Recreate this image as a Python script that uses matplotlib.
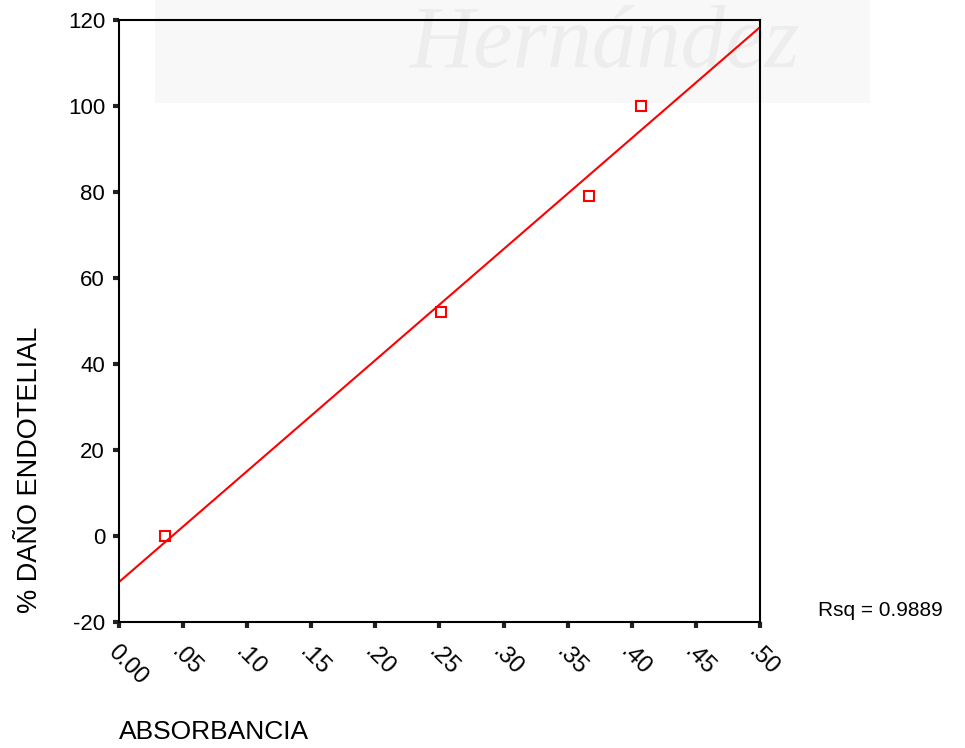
import numpy as np
import matplotlib.pyplot as plt
from matplotlib.patches import Rectangle

# ============================================================
# DATA
# ============================================================

absorbancia = [0.036, 0.251, 0.367, 0.407]
dano = [0.0, 52.0, 79.0, 100.0]

x_ticks = [0.00, 0.05, 0.10, 0.15, 0.20, 0.25, 0.30, 0.35, 0.40, 0.45, 0.50]
x_labels = ["0.00", ".05", ".10", ".15", ".20", ".25", ".30", ".35", ".40", ".45", ".50"]
y_ticks = [-20, 0, 20, 40, 60, 80, 100, 120]

rsq_text = "Rsq = 0.9889"

# linear fit
slope, intercept = np.polyfit(absorbancia, dano, 1)
x_fit = np.array([0.0, 0.5])
y_fit = slope * x_fit + intercept

# ============================================================
# FIGURE
# ============================================================

plt.rcParams["font.family"] = ["Liberation Sans", "DejaVu Sans"]

fig = plt.figure(figsize=(9.65, 7.48), dpi=100)

# faint watermark behind the plot
fig.patches.append(Rectangle((155 / 965, 1 - 103 / 748), 715 / 965, 103 / 748,
                             transform=fig.transFigure, facecolor="#f8f8f8",
                             edgecolor="none", zorder=-2))
fig.text(410 / 965, 1 - 45 / 748, "Hernández", fontsize=64,
         family="Liberation Serif", style="italic", color="#ededed",
         ha="left", va="center", zorder=-1)

ax = fig.add_axes([119 / 965, 1 - 622 / 748, 641 / 965, 602 / 748])
ax.set_facecolor("none")

ax.plot(x_fit, y_fit, color="red", lw=1.5, zorder=2)
ax.plot(absorbancia, dano, linestyle="none", marker="s", markersize=7.5,
        markerfacecolor="none", markeredgecolor="red", markeredgewidth=1.5,
        zorder=3)

ax.set_xlim(0, 0.5)
ax.set_ylim(-20, 120)

ax.set_xticks(x_ticks)
ax.set_xticklabels(x_labels, rotation=-45, ha="left", va="top",
                   rotation_mode="anchor", fontsize=17)
ax.set_yticks(y_ticks)
ax.set_yticklabels([str(v) for v in y_ticks], fontsize=16)

ax.tick_params(axis="both", direction="out", length=4, width=3,
               color="#222222", pad=6)
ax.tick_params(axis="x", pad=10)

for s in ax.spines.values():
    s.set_linewidth(1.5)
    s.set_color("black")

fig.text(30 / 965, 1 - 470 / 748, "% DAÑO ENDOTELIAL", rotation=90,
         fontsize=19.5, ha="center", va="center")
fig.text(119 / 965, 1 - 732 / 748, "ABSORBANCIA", fontsize=19,
         ha="left", va="center")
fig.text(818 / 965, 1 - 611 / 748, rsq_text, fontsize=15,
         ha="left", va="center")

fig.savefig("out.png", dpi=100)
